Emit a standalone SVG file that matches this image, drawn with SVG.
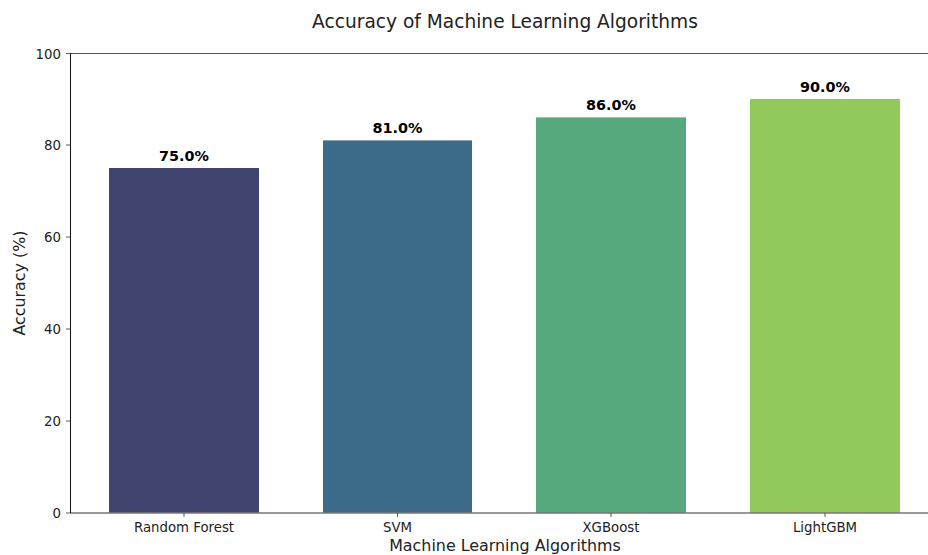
<svg xmlns="http://www.w3.org/2000/svg" width="928" height="555" viewBox="0 0 928 555">
<style>
text{font-family:"DejaVu Sans","Liberation Sans",sans-serif;fill:#222}
.tick{font-size:13.3px}
.yt{text-anchor:end}
.xt{text-anchor:middle}
.val{font-size:14.4px;font-weight:bold;text-anchor:middle;fill:#000}
.tk{stroke:#333;stroke-width:0.8}
</style>
<rect width="928" height="555" fill="#fff"/>
<text x="505" y="27.5" font-size="18.6" text-anchor="middle">Accuracy of Machine Learning Algorithms</text>
<g id="bars">
<g id="bar-rf"><rect x="109" y="168" width="150" height="345" fill="#424470"/><text class="val" x="184" y="161">75.0%</text></g>
<g id="bar-svm"><rect x="323" y="140.4" width="149" height="372.6" fill="#3d6c8a"/><text class="val" x="397.5" y="133">81.0%</text></g>
<g id="bar-xgb"><rect x="536" y="117.4" width="150" height="395.6" fill="#56a97c"/><text class="val" x="611" y="110">86.0%</text></g>
<g id="bar-lgbm"><rect x="750" y="99" width="150" height="414" fill="#91c95b"/><text class="val" x="825" y="92">90.0%</text></g>
</g>
<g id="axes">
<line x1="70" y1="53.5" x2="928" y2="53.5" stroke="#555" stroke-width="1"/>
<line x1="70" y1="513" x2="928" y2="513" stroke="#777" stroke-width="1.5"/>
<line x1="70.5" y1="53" x2="70.5" y2="513" stroke="#111" stroke-width="1"/>
<g class="tk">
<line x1="66" y1="513" x2="70" y2="513"/><line x1="66" y1="421" x2="70" y2="421"/><line x1="66" y1="329" x2="70" y2="329"/><line x1="66" y1="237" x2="70" y2="237"/><line x1="66" y1="145" x2="70" y2="145"/><line x1="66" y1="53.5" x2="70" y2="53.5"/>
<line x1="184" y1="513" x2="184" y2="517"/><line x1="397.5" y1="513" x2="397.5" y2="517"/><line x1="611" y1="513" x2="611" y2="517"/><line x1="825" y1="513" x2="825" y2="517"/>
</g>
<g class="tick">
<text class="yt" x="61" y="518">0</text>
<text class="yt" x="61" y="426">20</text>
<text class="yt" x="61" y="334">40</text>
<text class="yt" x="61" y="242">60</text>
<text class="yt" x="61" y="150">80</text>
<text class="yt" x="61" y="58.5">100</text>
<text class="xt" x="184" y="531.5">Random Forest</text>
<text class="xt" x="397.5" y="531.5">SVM</text>
<text class="xt" x="611" y="531.5">XGBoost</text>
<text class="xt" x="825" y="531.5">LightGBM</text>
</g>
<text x="505" y="550.5" font-size="15.9" text-anchor="middle">Machine Learning Algorithms</text>
<text transform="translate(25,283) rotate(-90)" font-size="15.9" text-anchor="middle">Accuracy (%)</text>
</g>
</svg>
